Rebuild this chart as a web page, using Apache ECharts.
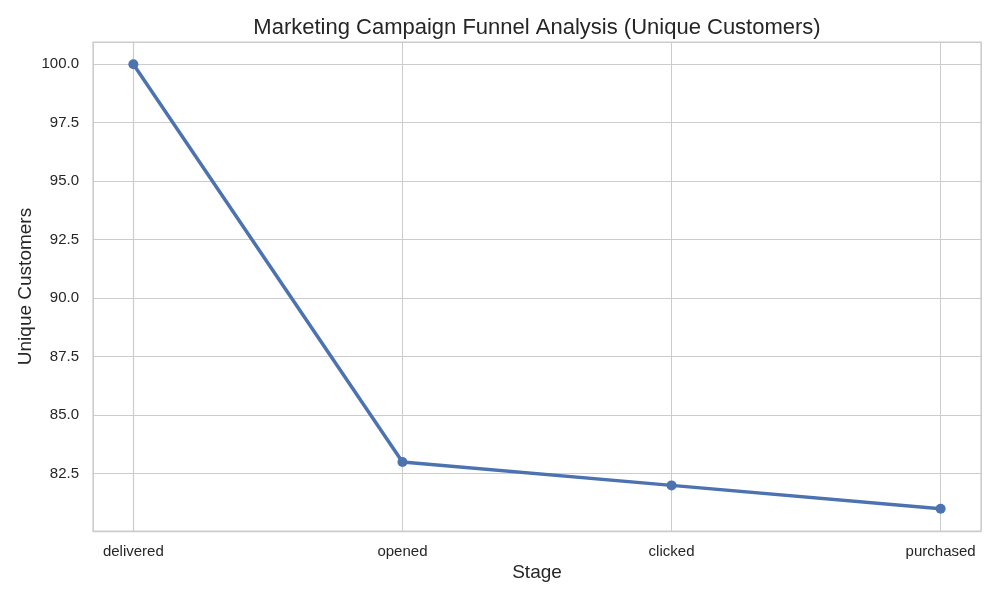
<!DOCTYPE html>
<html>
<head>
<meta charset="utf-8">
<script src="https://cdn.jsdelivr.net/npm/echarts@6/dist/echarts.min.js"></script>
<style>
html,body{margin:0;padding:0;background:#fff;}
#chart{width:1000px;height:600px;}
</style>
</head>
<body>
<div id="chart"></div>
<script>
const stages = ['delivered', 'opened', 'clicked', 'purchased'];
const customers = [100, 83, 82, 81];
const yTicks = [82.5, 85.0, 87.5, 90.0, 92.5, 95.0, 97.5, 100.0];

const textColor = '#262626';
const gridColor = '#cccccc';
const fontFamily = '"Liberation Sans", Arial, sans-serif';

const chart = echarts.init(document.getElementById('chart'), null, {renderer: 'canvas'});
chart.setOption({
  backgroundColor: '#ffffff',
  animation: false,
  title: {
    text: 'Marketing Campaign Funnel Analysis (Unique Customers)',
    left: 537, textAlign: 'center', top: 17, padding: 0,
    textStyle: {color: textColor, fontSize: 22, fontWeight: 'normal', fontFamily: fontFamily}
  },
  grid: {
    left: 93, right: 19, top: 42, bottom: 69,
    show: true, borderColor: gridColor, borderWidth: 1.25, backgroundColor: '#ffffff',
    containLabel: false, outerBoundsMode: 'none'
  },
  xAxis: {
    type: 'value',
    min: -0.15, max: 3.15,
    minInterval: 1, maxInterval: 1,
    name: 'Stage', nameLocation: 'middle', nameGap: 32, nameMoveOverlap: false,
    nameTextStyle: {color: textColor, fontSize: 19, fontFamily: fontFamily},
    axisLine: {show: true, lineStyle: {color: gridColor, width: 1.25}},
    axisTick: {show: false},
    splitLine: {show: true, lineStyle: {color: gridColor, width: 1}},
    axisLabel: {
      color: textColor, fontSize: 15, fontFamily: fontFamily, margin: 13,
      showMinLabel: false, showMaxLabel: false,
      formatter: function (v) {
        const i = Math.round(v);
        return (Math.abs(v - i) < 1e-6 && stages[i] !== undefined) ? stages[i] : '';
      }
    }
  },
  yAxis: {
    type: 'value',
    min: 80.05, max: 100.95,
    minInterval: 2.5, maxInterval: 2.5,
    name: 'Unique Customers', nameLocation: 'middle', nameGap: 58, nameMoveOverlap: false,
    nameTextStyle: {color: textColor, fontSize: 19, fontFamily: fontFamily},
    axisLine: {show: true, lineStyle: {color: gridColor, width: 1.25}},
    axisTick: {show: false},
    splitLine: {show: true, lineStyle: {color: gridColor, width: 1}},
    axisLabel: {
      color: textColor, fontSize: 15, fontFamily: fontFamily, margin: 14,
      padding: [4, 0, 0, 0],
      showMinLabel: false, showMaxLabel: false,
      formatter: function (v) {
        for (const t of yTicks) { if (Math.abs(v - t) < 1e-6) return t.toFixed(1); }
        return '';
      }
    }
  },
  series: [{
    type: 'line',
    data: customers.map((c, i) => [i, c]),
    lineStyle: {color: '#4c72b0', width: 3.5},
    itemStyle: {color: '#4c72b0'},
    symbol: 'circle', symbolSize: 10,
    clip: false
  }]
});
</script>
</body>
</html>
